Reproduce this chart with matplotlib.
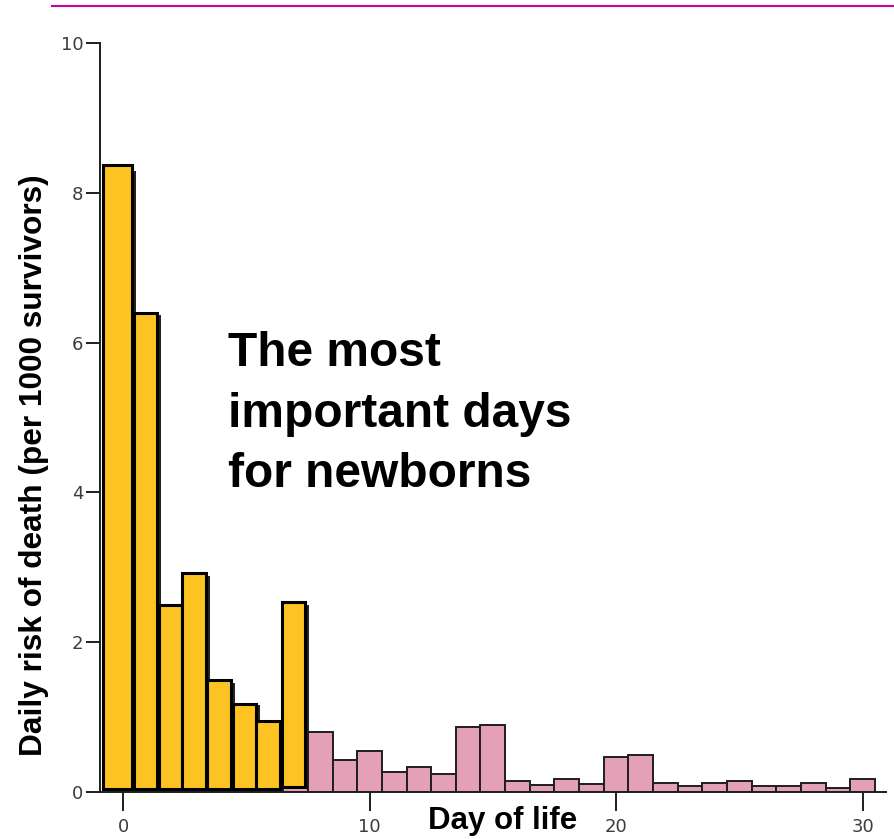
import matplotlib
matplotlib.use('Agg')
import matplotlib.pyplot as plt
from matplotlib.lines import Line2D
import numpy as np

# daily risk of death per 1000 survivors, days 0..30
days = list(range(31))
pink_risk = [8.28, 6.36, 2.45, 2.87, 1.44, 1.15, 0.93, 2.48,
             0.80, 0.43, 0.55, 0.27, 0.34, 0.24, 0.87, 0.90,
             0.15, 0.10, 0.18, 0.11, 0.47, 0.50, 0.12, 0.08,
             0.12, 0.15, 0.08, 0.08, 0.12, 0.05, 0.18]

# highlighted first week (overlay drawn on top)
week_days = [0, 1, 2, 3, 4, 5, 6, 7]
week_top = [8.37, 6.40, 2.49, 2.92, 1.49, 1.18, 0.95, 2.54]

xticks = [0, 10, 20, 30]
yticks = [0, 2, 4, 6, 8, 10]

pink = '#E3A0B7'
yellow = '#FDC322'
dark = '#1e1e1e'

fig = plt.figure(figsize=(8.94, 8.39), dpi=100)
ax = fig.add_axes([100/894, 1-792/839, 786/894, 749/839])

ax.bar(days, pink_risk, width=1.0, color=pink, edgecolor=dark, linewidth=1.4, zorder=2)

# overlay bars: slightly shifted left, lifted off the axis a little
w_width = [1.2, 0.92, 0.92, 1.0, 0.96, 0.92, 1.0, 0.94]
w_bottom = [0.04, 0.04, 0.04, 0.04, 0.04, 0.04, 0.04, 0.07]
w_height = [t - b for t, b in zip(week_top, w_bottom)]
w_right = [d + 0.38 for d in week_days]
ax.bar(w_right, w_height, width=[-w for w in w_width], bottom=w_bottom, align='edge',
       color=yellow, edgecolor='black', linewidth=2.2, zorder=3)

ax.set_xlim(-0.933, 30.95)
ax.set_ylim(0, 10)
ax.set_xticks(xticks)
ax.set_yticks(yticks)

for s in ['top', 'right']:
    ax.spines[s].set_visible(False)
for s in ['left', 'bottom']:
    ax.spines[s].set_linewidth(1.4)
    ax.spines[s].set_color(dark)
ax.spines['bottom'].set_zorder(4)

ax.tick_params(axis='y', direction='out', length=10, width=1.4, color=dark,
               labelsize=13, labelcolor='#3c3c3c', pad=2)
ax.tick_params(axis='x', direction='out', length=13.5, width=1.4, color=dark,
               labelsize=13, labelcolor='#3c3c3c', pad=5)
for lab in ax.get_xticklabels() + ax.get_yticklabels():
    lab.set_family('DejaVu Sans')

bold = dict(family='Liberation Sans', weight='bold', color='black')
fig.text(34/894, 1-465.5/839, 'Daily risk of death (per 1000 survivors)', rotation=90,
         ha='center', va='center', fontsize=22.8, **bold)
fig.text(502.5/894, 1-821/839, 'Day of life', ha='center', va='center', fontsize=22.5, **bold)
# va='baseline' pins the last line's baseline
fig.text(228/894, 1-487/839, 'The most\nimportant days\nfor newborns', ha='left',
         va='baseline', fontsize=34.5, linespacing=1.44, **bold)

# magenta rule along the top
fig.add_artist(Line2D([52/894, 1.0], [1-6/839, 1-6/839], color='#CC00AA', linewidth=1.5,
                      transform=fig.transFigure))

fig.savefig('out.png', dpi=100)
